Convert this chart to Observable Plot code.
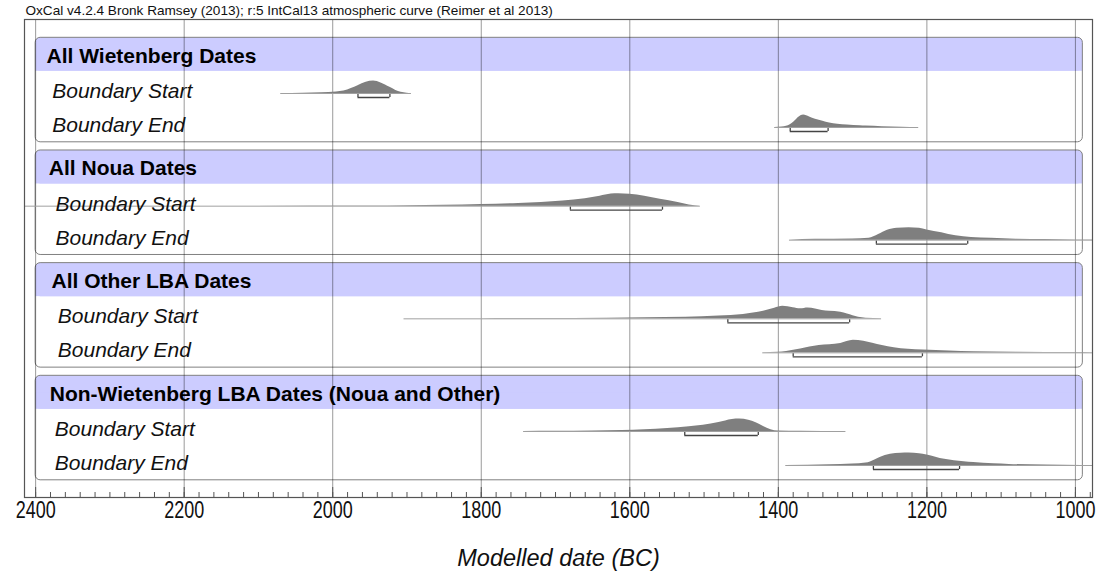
<!DOCTYPE html>
<html><head><meta charset="utf-8">
<script src="https://cdn.jsdelivr.net/npm/d3@7"></script>
<script src="https://cdn.jsdelivr.net/npm/@observablehq/plot@0.6"></script>
<style>body{margin:0;background:#fff}svg{display:block}</style>
</head><body><div id="chart"></div>
<script>
// ---------- data ----------
const title = "OxCal v4.2.4 Bronk Ramsey (2013); r:5 IntCal13 atmospheric curve (Reimer et al 2013)";
const xLabel = "Modelled date (BC)";
const groups = ["All Wietenberg Dates", "All Noua Dates", "All Other LBA Dates", "Non-Wietenberg LBA Dates (Noua and Other)"];
const rowLabels = ["Boundary Start", "Boundary End"];
const majorTicks = [2400, 2200, 2000, 1800, 1600, 1400, 1200, 1000];
const minorTicks = d3.range(2400, 979, -20);

// posterior distributions: [year BC, relative probability]
const wietStart = [[2070,0],[2040,0.02],[2015,0.06],[1995,0.12],[1985,0.2],[1975,0.4],[1966,0.63],[1955,0.9],[1945,1],[1935,0.85],[1923,0.5],[1915,0.25],[1908,0.1],[1900,0.03],[1894,0]];
const wietEnd = [[1405,0],[1395,0.04],[1389,0.1],[1379,0.45],[1372,0.85],[1366,1],[1358,0.85],[1350,0.66],[1340,0.5],[1331,0.36],[1320,0.27],[1307,0.2],[1290,0.14],[1282,0.12],[1260,0.07],[1234,0.03],[1211,0]];
const nouaStart = [[2415,0],[1950,0.005],[1900,0.03],[1850,0.07],[1800,0.13],[1750,0.22],[1719,0.3],[1690,0.42],[1660,0.6],[1640,0.8],[1625,0.97],[1615,1],[1600,0.95],[1580,0.8],[1559,0.55],[1535,0.3],[1520,0.1],[1505,0]];
const nouaEnd = [[1385,0],[1350,0.07],[1300,0.1],[1278,0.15],[1265,0.45],[1253,0.8],[1240,0.95],[1224,1],[1210,0.95],[1200,0.82],[1180,0.6],[1161,0.35],[1140,0.22],[1113,0.15],[1080,0.08],[1040,0.05],[1000,0.02],[960,0.01]];
const otherStart = [[1904,0],[1800,0.01],[1719,0.03],[1631,0.05],[1580,0.08],[1525,0.12],[1480,0.22],[1447,0.35],[1420,0.6],[1405,0.85],[1394,1],[1380,0.88],[1370,0.8],[1360,0.86],[1350,0.78],[1341,0.66],[1331,0.6],[1316,0.53],[1307,0.38],[1292,0.12],[1282,0.04],[1261,0]];
const otherEnd = [[1421,0],[1400,0.04],[1389,0.1],[1370,0.3],[1345,0.58],[1331,0.64],[1316,0.75],[1299,1],[1285,0.92],[1273,0.76],[1260,0.58],[1244,0.4],[1225,0.28],[1205,0.22],[1170,0.14],[1137,0.08],[1080,0.04],[1000,0.02],[960,0.01]];
const nonwStart = [[1743,0],[1700,0.015],[1650,0.04],[1610,0.08],[1580,0.15],[1549,0.25],[1520,0.38],[1501,0.5],[1480,0.72],[1462,0.97],[1452,1],[1440,0.9],[1430,0.7],[1420,0.4],[1410,0.15],[1400,0.04],[1370,0.02],[1309,0]];
const nonwEnd = [[1390,0],[1331,0.06],[1300,0.12],[1282,0.2],[1270,0.45],[1263,0.65],[1249,0.9],[1235,0.98],[1224,1],[1210,0.95],[1200,0.85],[1176,0.5],[1150,0.3],[1137,0.24],[1110,0.14],[1089,0.09],[1040,0.04],[992,0.01],[960,0.005]];
// 68.2% highest posterior density brackets [from, to]
const hpdRanges = [[1966,1923],[1384,1333],[1680,1556],[1268,1145],[1468,1304],[1380,1206],[1526,1427],[1272,1156]];

// ---------- layout (not data) ----------
const L = {
  width: 1106, height: 573, mTop: 19, mBottom: 76, mLeft: 24, mRight: 14,
  frameH: 478, xDomain: [2415, 977],
  top0: 18.3, step: 112.67, boxH: 104.5, bandH: 33.5, headBase: 24.9,
  rowBase: [60.2, 94.2], distLift: 4.5, peakH: 12.5,
  boxX1: 2400, boxX2: 990,
  headDx: [22, 24.3, 27, 25.3], rowDx: [27.7, 31, 33.3, 30.3]
};
const font = "'Liberation Sans', Arial, Helvetica, sans-serif";
const gTop = g => L.top0 + g * L.step;
const rowY = (g, r) => gTop(g) + L.rowBase[r];

const dists = [wietStart, wietEnd, nouaStart, nouaEnd, otherStart, otherEnd, nonwStart, nonwEnd];
const groupRows = groups.map((name, g) => ({name, g, top: gTop(g)}));
const distPts = dists.flatMap((pts, k) => {
  const g = Math.floor(k / 2), r = k % 2, base = rowY(g, r) - L.distLift;
  return pts.map(([yr, p]) => ({k, yr, base, top: base - p * L.peakH}));
});
const distLines = dists.map((pts, k) => {
  const g = Math.floor(k / 2), r = k % 2;
  return {x1: pts[0][0], x2: pts[pts.length - 1][0], y: rowY(g, r) - L.distLift};
});
const bracketRows = hpdRanges.map(([a, b], k) => ({a, b, y: rowY(Math.floor(k / 2), k % 2) - 0.5}));
const bracketEnds = bracketRows.flatMap(d => [{x: d.a, y: d.y}, {x: d.b, y: d.y}]);
const labelRows = groups.flatMap((_, g) => rowLabels.map((label, r) => ({g, label, y: rowY(g, r)})));

const chart = Plot.plot({
  width: L.width, height: L.height,
  marginTop: L.mTop, marginBottom: L.mBottom, marginLeft: L.mLeft, marginRight: L.mRight,
  x: {domain: L.xDomain, axis: null},
  y: {domain: [0, L.frameH], reverse: true, axis: null},
  style: {fontFamily: font, background: "white"},
  marks: [
    // group boxes
    Plot.rect(groupRows, {x1: () => L.boxX1, x2: () => L.boxX2, y1: d => d.top, y2: d => d.top + L.boxH, fill: "white", rx: 5}),
    Plot.rect(groupRows, {x1: () => L.boxX1, x2: () => L.boxX2, y1: d => d.top, y2: d => d.top + L.bandH, fill: "#ccccff", rx: 5}),
    Plot.rect(groupRows, {x1: () => L.boxX1, x2: () => L.boxX2, y1: d => d.top + L.bandH / 2, y2: d => d.top + L.bandH, fill: "#ccccff"}),
    Plot.rect(groupRows, {x1: () => L.boxX1, x2: () => L.boxX2, y1: d => d.top, y2: d => d.top + L.boxH, fill: "none", stroke: "#808080", strokeWidth: 1, rx: 5}),
    // grid
    Plot.ruleX(majorTicks, {x: d => d, y1: 0, y2: L.frameH, stroke: "black", strokeOpacity: 0.4, strokeWidth: 1}),
    // distributions
    Plot.ruleY(distLines, {x1: "x1", x2: "x2", y: "y", stroke: "#a0a0a0", strokeWidth: 1, clip: true}),
    Plot.areaY(distPts, {x: "yr", y1: "base", y2: "top", z: "k", fill: "#7f7f7f", curve: "monotone-x", clip: true}),
    // hpd brackets
    Plot.ruleY(bracketRows, {x1: "a", x2: "b", y: "y", stroke: "#444", strokeWidth: 1.3}),
    Plot.ruleX(bracketEnds, {x: "x", y1: d => d.y - 3, y2: d => d.y, stroke: "#444", strokeWidth: 1.3}),
    // labels
    ...groupRows.map(d => Plot.text([d], {y: r => r.top + L.headBase, text: "name", frameAnchor: "left", textAnchor: "start", lineAnchor: "bottom", dx: L.headDx[d.g], fontSize: 21, fontWeight: "bold", fill: "black"})),
    ...groups.map((_, g) => Plot.text(labelRows.filter(d => d.g === g), {y: "y", text: "label", frameAnchor: "left", textAnchor: "start", lineAnchor: "bottom", dx: L.rowDx[g], fontSize: 21, fontStyle: "italic", fill: "#111"})),
    // axis ticks
    Plot.ruleX(minorTicks, {x: d => d, y1: L.frameH - 5, y2: L.frameH, stroke: "#555", strokeWidth: 1}),
    Plot.ruleX(majorTicks, {x: d => d, y1: L.frameH - 10, y2: L.frameH, stroke: "#555", strokeWidth: 1}),
    Plot.frame({stroke: "#555", strokeWidth: 1.2}),
    Plot.text(majorTicks, {x: d => d, text: d => String(d), frameAnchor: "bottom", lineAnchor: "top", dy: 3, fontSize: 24, fill: "#111"}),
    Plot.text([xLabel], {text: d => d, frameAnchor: "bottom", lineAnchor: "middle", dy: 61, fontSize: 23.5, fontStyle: "italic", fill: "#111"}),
    Plot.text([title], {text: d => d, frameAnchor: "top-left", textAnchor: "start", lineAnchor: "bottom", dx: 1, dy: -4.5, fontSize: 13.6, fill: "#111"})
  ]
});
// condensed look of the tick labels, as in the reference
d3.select(chart).selectAll("text")
  .filter(function () { return /^\d{4}$/.test(this.textContent); })
  .attr("textLength", 40).attr("lengthAdjust", "spacingAndGlyphs");
document.getElementById("chart").appendChild(chart);
</script>
</body></html>
